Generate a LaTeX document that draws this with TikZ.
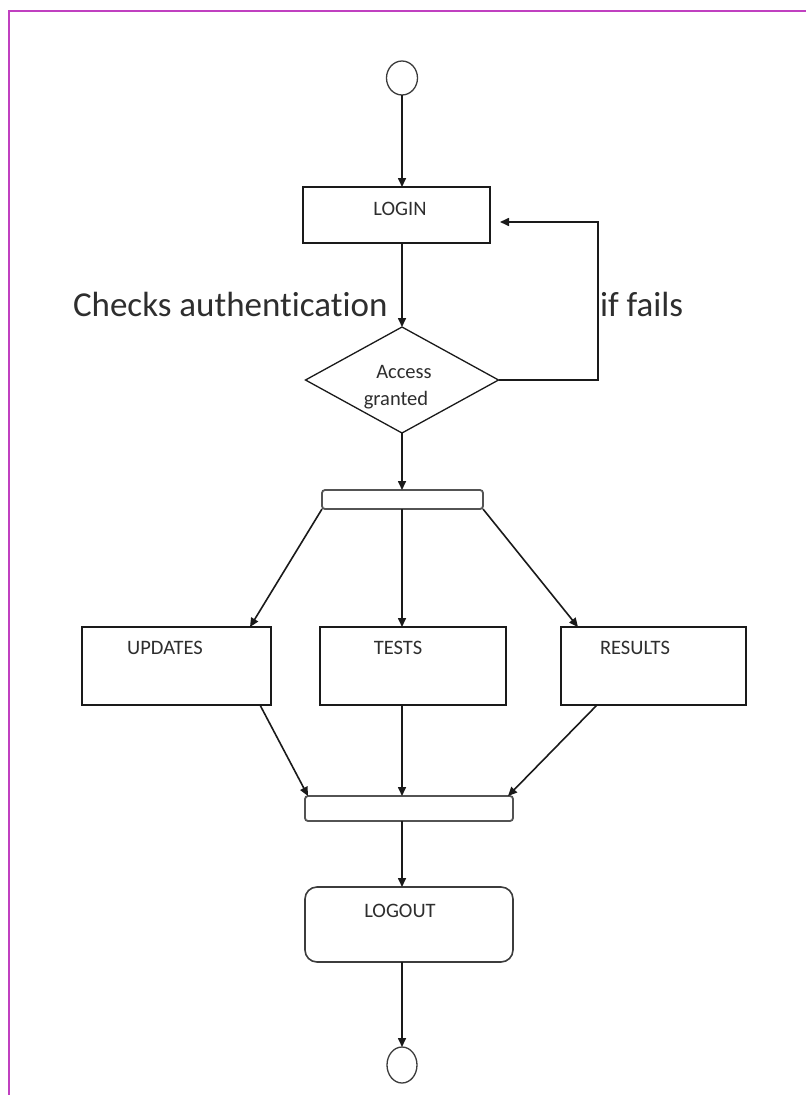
\documentclass[tikz,border=0pt]{standalone}
\usepackage{fontspec}
\setmainfont{Carlito}[Ligatures={NoCommon}]
\usetikzlibrary{arrows.meta,shapes.geometric,calc}
\definecolor{frame}{HTML}{C040C0}
\definecolor{ink}{HTML}{1A1A1A}
\definecolor{txt}{HTML}{2E2E2E}
\tikzset{
  x=1pt, y=-1pt,
  every node/.style={inner sep=0pt, outer sep=0pt},
  arr/.style={draw=ink, line width=1.6pt, -{Triangle[length=9pt,width=8pt]}},
  terminal/.style={ellipse, draw=ink!85, line width=1.3pt, fill=white},
  actbox/.style={rectangle, draw=ink, line width=1.6pt, fill=white},
  syncbar/.style={rectangle, rounded corners=3pt, draw=ink!75, line width=1.8pt, fill=white},
  smalllbl/.style={font=\fontsize{20.5}{22}\selectfont, text=txt, anchor=base},
  biglbl/.style={font=\fontsize{35}{38}\selectfont, text=txt, anchor=base west},
}
\begin{document}
\begin{tikzpicture}
  \useasboundingbox (0,0) rectangle (806,1095);
  \fill[white] (0,0) rectangle (806,1095);
  % page frame
  \draw[frame, line width=2pt] (9,1095) -- (9,11) -- (806,11);

  % nodes
  \node[terminal, minimum width=31pt, minimum height=34pt] (start) at (402,78) {};
  \node[actbox, minimum width=187pt, minimum height=56pt] (login) at (396.5,215) {};
  \node[diamond, draw=ink, line width=1.3pt, fill=white, minimum width=193pt, minimum height=106pt] (access) at (402,380) {};
  \node[syncbar, minimum width=161pt, minimum height=19pt] (fork) at (402.5,499.5) {};
  \node[actbox, minimum width=189pt, minimum height=78pt] (updates) at (176.5,666) {};
  \node[actbox, minimum width=186pt, minimum height=78pt] (tests) at (413,666) {};
  \node[actbox, minimum width=185pt, minimum height=78pt] (results) at (653.5,666) {};
  \node[syncbar, minimum width=208pt, minimum height=25pt] (join) at (409,808.5) {};
  \node[rectangle, rounded corners=12pt, draw=ink!85, line width=1.6pt, fill=white,
        minimum width=208pt, minimum height=75pt] (logout) at (409,924.5) {};
  \node[terminal, minimum width=30pt, minimum height=36pt] (stop) at (402,1065) {};

  % labels
  \node[smalllbl] (tlogin) at (400,215) {LOGIN};
  \node[smalllbl] (taccess) at (404,378) {Access};
  \node[smalllbl] (tgranted) at (396,405) {granted};
  \node[smalllbl] (tupdates) at (165,654) {UPDATES};
  \node[smalllbl] (ttests) at (398,654) {TESTS};
  \node[smalllbl] (tresults) at (635,654) {RESULTS};
  \node[smalllbl] (tlogout) at (400,917) {LOGOUT};
  \node[biglbl] (tchecks) at (73,316) {Checks authentication};
  \node[biglbl] (tfails) at (600,316) {if fails};

  % connectors
  \draw[arr] (start.south) -- (start.south |- login.north);
  \draw[arr] (start |- login.south) -- (access.north);
  \draw[arr] (access.east) -- (access.east -| 598,0) |- ([xshift=10pt,yshift=-7pt]login.east);
  \draw[arr] (access.south) -- (access.south |- fork.north);
  \draw[arr] (fork.south west) -- ([xshift=-21pt]updates.north east);
  \draw[arr] (fork.south -| start) -- (start |- tests.north);
  \draw[arr] (fork.south east) -- ([xshift=17pt]results.north west);
  \draw[arr] ([xshift=-11pt]updates.south east) -- ([xshift=3pt]join.north west);
  \draw[arr] (start |- tests.south) -- (start |- join.north);
  \draw[arr] ([xshift=36pt]results.south west) -- ([xshift=-5pt]join.north east);
  \draw[arr] (start |- join.south) -- (start |- logout.north);
  \draw[arr] (start |- logout.south) -- (stop.north);
\end{tikzpicture}
\end{document}
